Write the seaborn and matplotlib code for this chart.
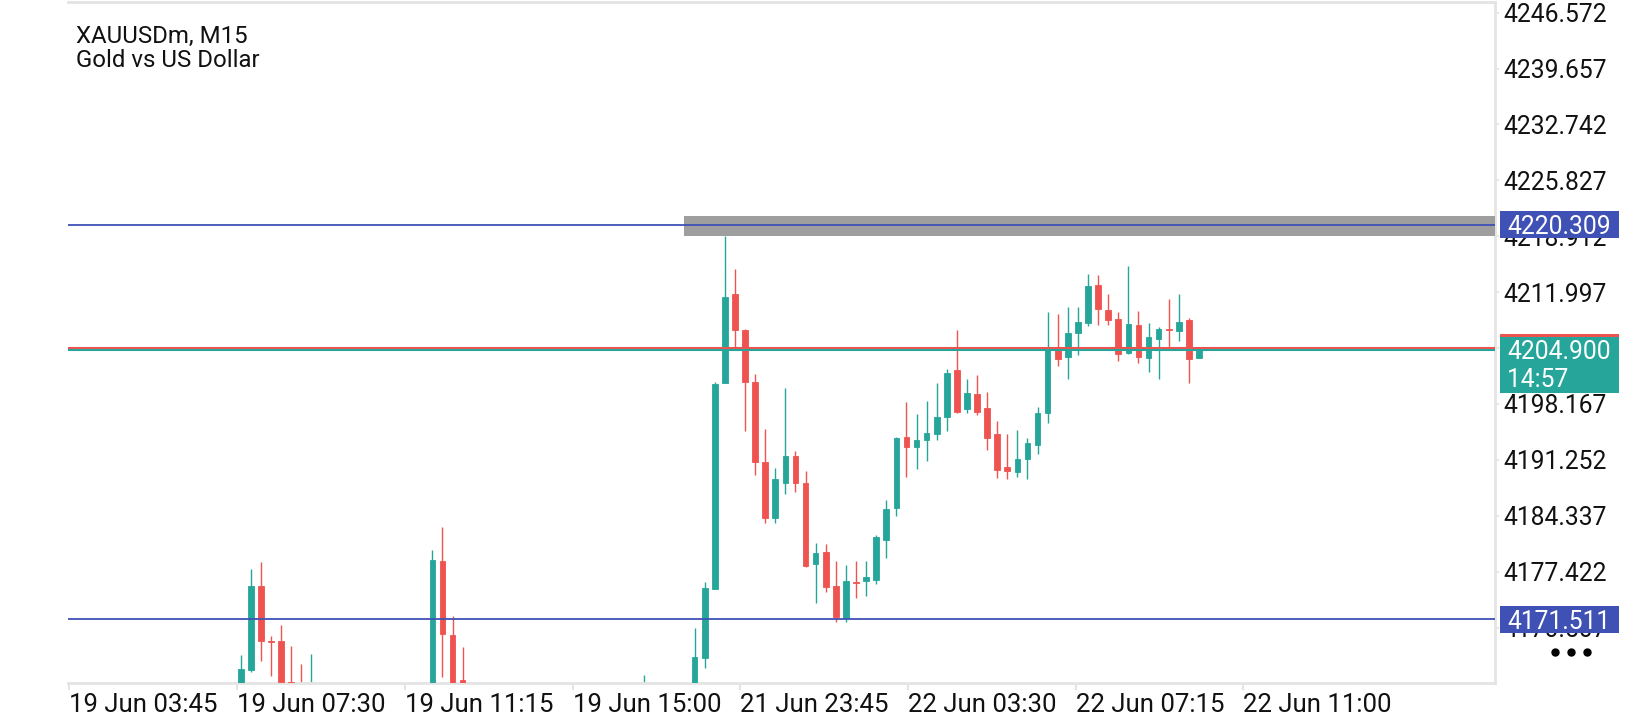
import numpy as np
import pandas as pd
import matplotlib
matplotlib.use("Agg")
import matplotlib.pyplot as plt
import matplotlib.transforms as mtransforms
from matplotlib.patches import Rectangle
import seaborn as sns

# ---------------- data ----------------
title_line1 = "XAUUSDm, M15"
title_line2 = "Gold vs US Dollar"

# bar slot numbers (chart positions of the M15 bars that are visible)
slot = [0, 1, 2, 3, 4, 5, 6, 7, 19, 20, 21, 22, 40, 45, 46, 47, 48, 49, 50, 51,
        52, 53, 54, 55, 56, 57, 58, 59, 60, 61, 62, 63, 64, 65, 66, 67, 68, 69,
        70, 71, 72, 73, 74, 75, 76, 77, 78, 79, 80, 81, 82, 83, 84, 85, 86, 87,
        88, 89, 90, 91, 92, 93, 94, 95]
open_ = [4160.00, 4165.26, 4175.65, 4168.85, 4168.85, 4163.78, 4163.00, 4161.00,
         4162.00, 4178.75, 4169.59, 4164.03, 4160.00, 4161.00, 4166.78, 4175.28,
         4200.76, 4211.77, 4207.32, 4200.83, 4190.93, 4184.10, 4188.43, 4191.73,
         4188.39, 4178.41, 4179.86, 4175.65, 4171.70, 4176.15, 4176.31, 4176.43,
         4181.38, 4185.34, 4194.08, 4192.89, 4193.71, 4194.49, 4196.60, 4202.37,
         4197.59, 4199.40, 4197.67, 4194.49, 4190.37, 4189.79, 4191.36, 4193.13,
         4197.09, 4205.13, 4204.02, 4206.95, 4208.22, 4212.92, 4209.83, 4208.72,
         4204.51, 4207.98, 4203.89, 4206.24, 4207.45, 4207.23, 4208.56, 4203.89]
high = [4167.12, 4177.76, 4178.62, 4169.47, 4170.83, 4168.27, 4166.00, 4167.24,
        4180.11, 4182.99, 4171.94, 4168.15, 4164.64, 4170.46, 4176.15, 4200.89,
        4219.00, 4214.87, 4207.40, 4201.88, 4195.07, 4190.25, 4200.15, 4192.35,
        4189.88, 4180.97, 4180.85, 4178.75, 4178.29, 4178.75, 4178.75, 4181.96,
        4186.33, 4194.12, 4198.45, 4196.93, 4198.54, 4200.76, 4202.53, 4207.32,
        4201.26, 4201.75, 4199.65, 4196.06, 4194.49, 4194.99, 4194.00, 4197.83,
        4209.55, 4209.34, 4210.20, 4210.20, 4214.29, 4214.16, 4211.81, 4209.58,
        4215.27, 4209.71, 4208.22, 4207.73, 4211.19, 4211.81, 4208.81, 4204.90]
low = [4159.00, 4165.05, 4166.41, 4164.56, 4163.00, 4160.50, 4160.00, 4160.00,
       4161.00, 4164.43, 4161.00, 4161.00, 4159.50, 4160.00, 4165.55, 4175.28,
       4200.76, 4205.22, 4194.83, 4189.38, 4183.48, 4183.48, 4187.03, 4187.32,
       4178.00, 4173.59, 4174.95, 4171.20, 4171.20, 4174.21, 4174.45, 4175.94,
       4179.15, 4184.35, 4189.17, 4190.16, 4191.15, 4193.71, 4194.86, 4197.09,
       4197.09, 4196.84, 4192.51, 4189.01, 4188.95, 4189.17, 4188.93, 4192.02,
       4195.85, 4202.90, 4201.30, 4204.27, 4207.85, 4207.98, 4207.98, 4203.52,
       4204.39, 4203.28, 4202.16, 4201.30, 4205.26, 4206.00, 4200.73, 4203.89]
close = [4165.39, 4175.65, 4168.89, 4168.78, 4163.82, 4161.50, 4161.00, 4163.30,
         4178.87, 4169.75, 4162.00, 4162.00, 4163.00, 4166.87, 4175.41, 4200.64,
         4211.40, 4207.32, 4200.83, 4190.93, 4184.10, 4188.89, 4191.73, 4188.43,
         4178.09, 4179.74, 4175.57, 4171.82, 4176.27, 4176.07, 4176.77, 4181.75,
         4185.18, 4193.96, 4192.89, 4193.71, 4194.62, 4196.60, 4202.04, 4197.21,
         4199.53, 4197.21, 4194.00, 4190.00, 4189.92, 4191.36, 4193.38, 4197.09,
         4204.88, 4203.77, 4206.95, 4208.35, 4212.80, 4209.96, 4208.60, 4204.39,
         4208.10, 4204.02, 4206.49, 4207.48, 4207.37, 4208.35, 4203.70, 4204.90]

x_tick_slots = [-17.0, -0.4, 16.25, 32.9, 49.5, 66.2, 82.8, 99.4]
x_tick_labels = ["19 Jun 03:45", "19 Jun 07:30", "19 Jun 11:15", "19 Jun 15:00",
                 "21 Jun 23:45", "22 Jun 03:30", "22 Jun 07:15", "22 Jun 11:00"]
y_tick_values = [4246.572, 4239.657, 4232.742, 4225.827, 4218.912, 4211.997,
                 4205.082, 4198.167, 4191.252, 4184.337, 4177.422, 4170.507]

level_upper = 4220.309
level_lower = 4171.511
bid_price = 4204.900
ask_price = 4205.130
countdown = "14:57"
zone_start_slot = 43.95
zone_low, zone_high = 4218.95, 4221.42

x_range = (-17.12, 124.35)
y_range = (4163.654, 4247.894)

df = pd.DataFrame({"slot": slot, "open": open_, "high": high,
                   "low": low, "close": close})
df["up"] = df["close"] >= df["open"]

# ---------------- style ----------------
GREEN = "#26a69a"
RED = "#ef5350"
BLUE = "#3f51b5"
FRAME = "#e4e4e4"
FS_Y = 17.7
FS_X = 18.5
FS_T = 17.3

sns.set_theme(style="white")
plt.rcParams["font.family"] = ["Roboto", "DejaVu Sans"]

W, H = 1640, 720
fig = plt.figure(figsize=(W / 100, H / 100), dpi=100)
ax = fig.add_axes([68 / W, 37 / H, 1427 / W, 681 / H])

colors = np.where(df["up"], GREEN, RED)

# wicks
ax.vlines(df["slot"], df["low"], df["high"], colors=colors, linewidth=1.0, zorder=2)
# bodies
body_bottom = np.minimum(df["open"], df["close"])
body_height = np.abs(df["close"] - df["open"])
ax.bar(df["slot"], body_height, bottom=body_bottom, width=0.56, color=colors,
       edgecolor=colors, linewidth=0.6, zorder=3)

# zone rectangle
ax.add_patch(Rectangle((zone_start_slot, zone_low), x_range[1] - zone_start_slot,
                       zone_high - zone_low, color="#9e9e9e", lw=0, zorder=4))

# horizontal levels
ax.axhline(level_upper, color=BLUE, lw=1.3, zorder=5)
ax.axhline(level_lower, color=BLUE, lw=1.3, zorder=5)
ax.axhline(ask_price, color=RED, lw=1.5, zorder=5)
ax.axhline(bid_price, color=GREEN, lw=1.5, zorder=5)

ax.set_xlim(*x_range)
ax.set_ylim(*y_range)

# axes frame
for side in ["top", "right", "bottom"]:
    ax.spines[side].set_color(FRAME)
    ax.spines[side].set_linewidth(2.0)
ax.spines["left"].set_visible(False)

ax.set_xticks(x_tick_slots)
ax.set_xticklabels(x_tick_labels, ha="left")
ax.tick_params(axis="x", direction="out", length=5, width=1.5, color=FRAME,
               pad=2, labelsize=FS_X, labelcolor="#111111", bottom=True)

ax.yaxis.tick_right()
ax.set_yticks(y_tick_values)
ax.set_yticklabels([f"{v:.3f}" for v in y_tick_values])
ax.tick_params(axis="y", direction="out", length=3, width=1.2, color=FRAME,
               pad=3, labelsize=FS_Y, labelcolor="#111111", right=True, left=False)
ax.grid(False)

# price labels on the right
trans = mtransforms.blended_transform_factory(fig.transFigure, ax.transData)
px_per_unit = (681 / (y_range[1] - y_range[0]))
box_h = 27 / px_per_unit
bx, bw = 1500 / W, 119 / W
tx = 1507 / W

for price in (level_upper, level_lower):
    ax.add_patch(Rectangle((bx, price - box_h / 2), bw, box_h, transform=trans,
                           color=BLUE, lw=0, clip_on=False, zorder=15))
    ax.text(tx, price, f"{price:.3f}", transform=trans, color="white",
            fontsize=FS_Y, va="center_baseline", ha="left", clip_on=False, zorder=16)

ax.add_patch(Rectangle((bx, ask_price - box_h / 2), bw, box_h, transform=trans,
                       color=RED, lw=0, clip_on=False, zorder=15))
bid_top = bid_price + 13 / px_per_unit
bid_bot = bid_price - 43 / px_per_unit
ax.add_patch(Rectangle((bx, bid_bot), bw, bid_top - bid_bot, transform=trans,
                       color=GREEN, lw=0, clip_on=False, zorder=15.5))
ax.text(tx, bid_price, f"{bid_price:.3f}", transform=trans, color="white",
        fontsize=FS_Y, va="center_baseline", ha="left", clip_on=False, zorder=16)
ax.text(tx, bid_price - 28 / px_per_unit, countdown, transform=trans, color="white",
        fontsize=FS_Y, va="center_baseline", ha="left", clip_on=False, zorder=16)

# menu dots
ax.plot([1555 / W, 1571 / W, 1587 / W], [1 - 652 / H] * 3, "o", ms=5, color="black",
        transform=fig.transFigure, clip_on=False, zorder=16)

# title
fig.text(76.5 / W, 1 - 43.3 / H, title_line1, fontsize=FS_T, color="#111111",
         ha="left", va="baseline")
fig.text(76.5 / W, 1 - 66.7 / H, title_line2, fontsize=FS_T, color="#111111",
         ha="left", va="baseline")

fig.savefig("out.png", dpi=100)
